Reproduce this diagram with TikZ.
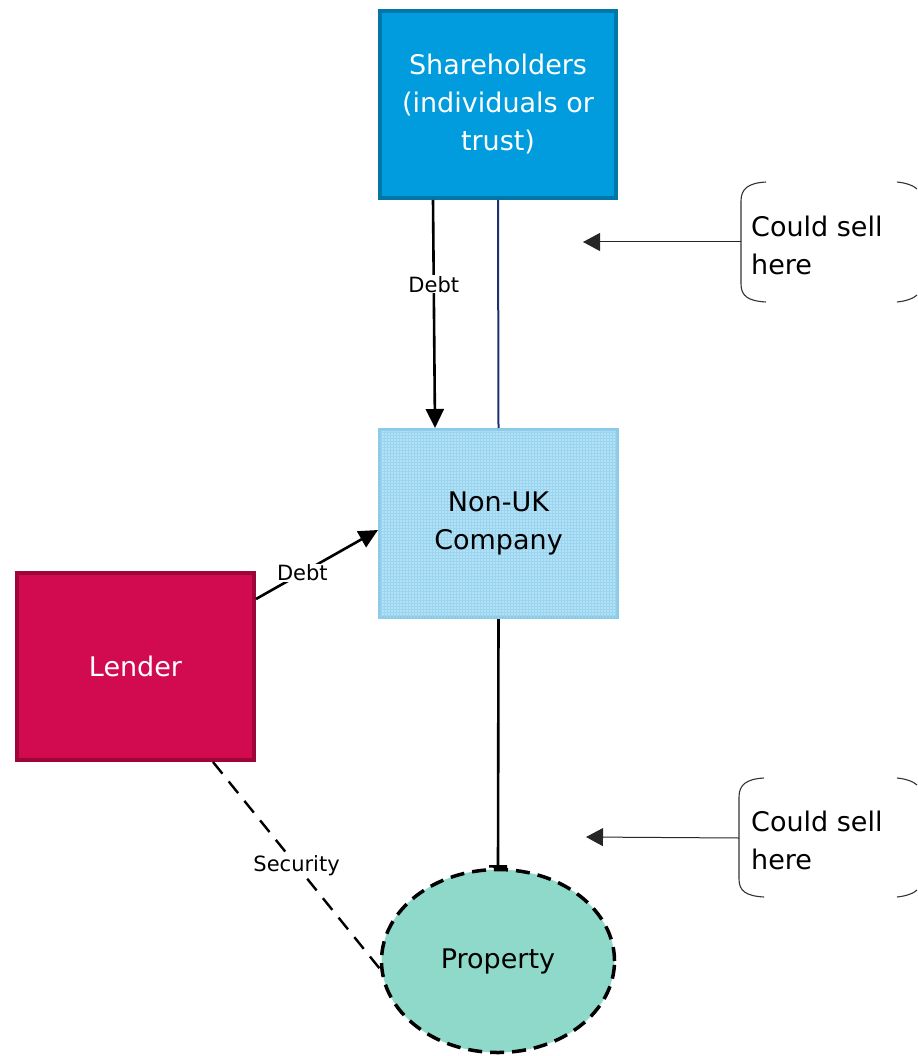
\documentclass[tikz,border=0pt]{standalone}
\usepackage{fontspec}
\setmainfont{DejaVu Sans}
\usetikzlibrary{arrows.meta,shapes.geometric,patterns}
\definecolor{shfill}{HTML}{009CDD}
\definecolor{shline}{HTML}{0077A8}
\definecolor{cofill}{HTML}{B3E1F5}
\definecolor{coline}{HTML}{8CCBE8}
\definecolor{cogrid}{HTML}{9AD4EE}
\definecolor{lefill}{HTML}{D20B50}
\definecolor{leline}{HTML}{9E063A}
\definecolor{prfill}{HTML}{8FD9CA}
\definecolor{navy}{HTML}{1F2F6F}
\tikzset{
  bigtext/.style={font=\fontsize{27}{38}\selectfont, align=center},
  smalltext/.style={font=\fontsize{21}{25}\selectfont, fill=white, inner sep=1pt},
  entity/.style={rectangle, bigtext},
  arr/.style={line width=2.6pt, -{Triangle[length=19pt,width=18pt]}},
  pointer/.style={line width=1pt, draw=black!85, -{Triangle[length=17pt,width=18pt]}},
  bracket/.style={line width=1.1pt, draw=black!80},
  selltext/.style={font=\fontsize{27}{38}\selectfont, align=left, inner sep=0pt, anchor=west}
}
\begin{document}
\begin{tikzpicture}[x=1pt,y=-1pt]
\useasboundingbox (0,0) rectangle (917,1056);

% main parties
\node[entity, fill=shfill, draw=shline, line width=4pt, text=white,
      minimum width=236pt, minimum height=187pt] (sh) at (498,104.5)
      {Shareholders\\(individuals or\\trust)};
\node[entity, fill=cofill, draw=coline, line width=3pt,
      minimum width=238pt, minimum height=188pt] (co) at (498.5,523.5) {};
\fill[pattern=grid, pattern color=cogrid] (380,430) rectangle (617,617);
\node[bigtext] at (co) {Non-UK\\Company};
\node[entity, fill=lefill, draw=leline, line width=4pt, text=white,
      minimum width=237pt, minimum height=187pt] (le) at (135.5,666.5) {Lender};
\node[ellipse, fill=prfill, draw=black, line width=3.5pt, dash pattern=on 14pt off 8pt,
      minimum width=233pt, minimum height=183pt, bigtext] (pr) at (498,961) {Property};

% connectors
\draw[arr] ([xshift=-65pt]sh.south) -- node[smalltext, pos=0.37] {Debt} ([xshift=-63.5pt]co.north);
\draw[navy, line width=2pt] (sh.south) -- (co.north);
\draw[arr] ([yshift=67.5pt]le.east) -- node[smalltext, pos=0.38] {Debt} ([yshift=-6.5pt]co.west);
\draw[line width=2.6pt, -{Bar[width=18pt]}] (co.south) -- (pr.north);
\draw[line width=2.4pt, dash pattern=on 15pt off 10pt] ([xshift=77.5pt]le.south)
      -- node[smalltext, pos=0.5] {Security} (pr.184);

% upper "could sell" note
\draw[bracket] (766,182) .. controls (748,183) and (741,189) .. (741,201) -- (741,284)
      .. controls (741,296) and (748,301) .. (766,302);
\draw[bracket] (897,182) .. controls (907,183) and (914,186) .. (917,189);
\draw[bracket] (897,302) .. controls (907,301) and (914,298) .. (917,295);
\node[selltext] (sellA) at (751,245) {Could sell\\here};
\coordinate (edgeA) at (741,242);
\coordinate (tipA) at (583,242);
\draw[pointer] (edgeA) -- (tipA);

% lower "could sell" note
\draw[bracket] (764,778) .. controls (746,779) and (739,785) .. (739,797) -- (739,879)
      .. controls (739,891) and (746,896) .. (764,897);
\draw[bracket] (897,778) .. controls (907,779) and (914,782) .. (917,785);
\draw[bracket] (897,897) .. controls (907,896) and (914,893) .. (917,890);
\node[selltext] (sellB) at (751,840) {Could sell\\here};
\coordinate (edgeB) at (739,838);
\coordinate (tipB) at (586,837);
\draw[pointer] (edgeB) -- (tipB);
\end{tikzpicture}
\end{document}
